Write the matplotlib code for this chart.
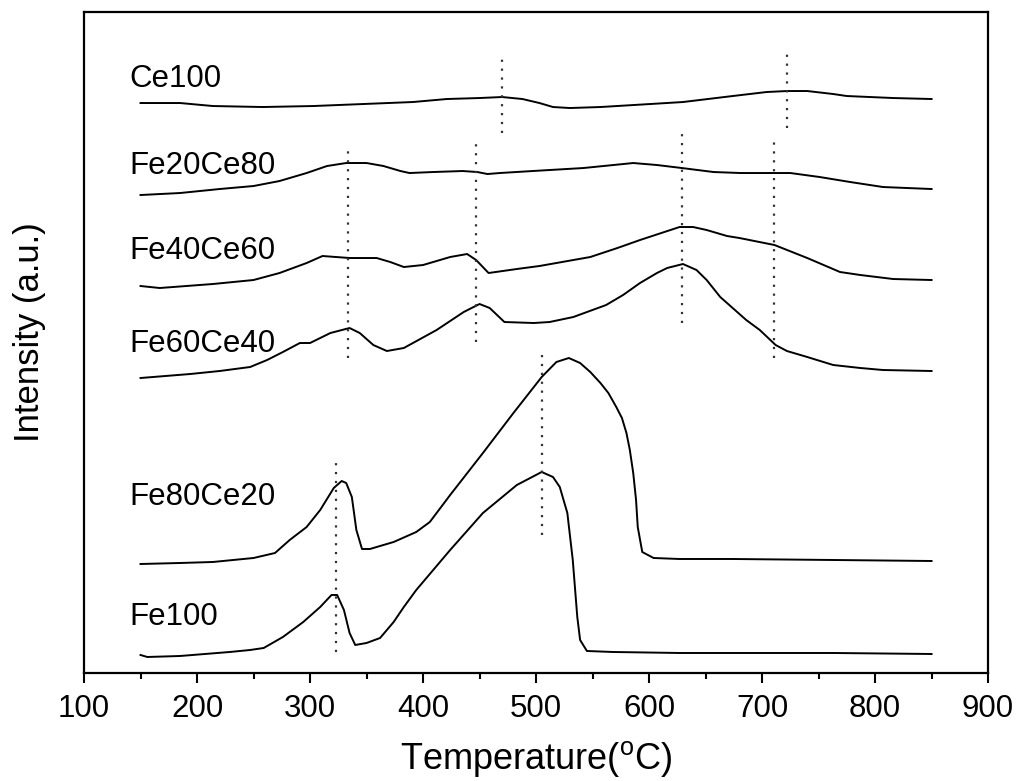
import matplotlib.pyplot as plt
import numpy as np

plt.rcParams['font.family'] = ['Liberation Sans', 'DejaVu Sans']
plt.rcParams['mathtext.fontset'] = 'custom'
plt.rcParams['mathtext.rm'] = 'Liberation Sans'

# H2-TPR profiles (temperature in C, intensity a.u. with offsets)
t_ce100 = [150, 185, 214, 258, 303, 347, 391, 421, 450, 470, 488, 503, 515, 530, 557, 601, 630,
           674, 704, 722, 740, 763, 775, 816, 850]
y_ce100 = [570, 570, 567, 566, 567, 569, 571, 574, 575, 576, 574, 570, 566, 565, 566, 569, 571,
           577, 581, 582, 582, 579, 577, 575, 574]

t_fe20 = [150, 185, 220, 250, 273, 297, 315, 332, 350, 365, 380, 388, 409, 435, 448, 457, 468,
          497, 542, 586, 607, 629, 657, 681, 725, 751, 778, 807, 850]
y_fe20 = [478, 480, 484, 487, 492, 500, 507, 510, 510, 507, 502, 500, 501, 502, 501, 499, 500,
          502, 505, 510, 508, 505, 501, 500, 500, 496, 491, 486, 484]

t_fe40 = [150, 167, 214, 250, 273, 297, 311, 335, 359, 371, 383, 400, 424, 439, 447, 458, 483,
          503, 548, 572, 592, 627, 639, 651, 669, 680, 711, 740, 769, 787, 816, 850]
y_fe40 = [387, 385, 389, 393, 400, 410, 417, 415, 415, 411, 406, 408, 416, 419, 413, 400, 404,
          407, 416, 425, 433, 446, 446, 443, 437, 435, 428, 415, 401, 398, 394, 393]

t_fe60 = [150, 194, 220, 247, 262, 276, 291, 300, 318, 335, 344, 356, 368, 383, 412, 436, 450,
          459, 472, 498, 512, 533, 562, 577, 592, 607, 616, 630, 642, 651, 663, 674, 686, 698,
          712, 722, 740, 763, 787, 807, 850]
y_fe60 = [295, 299, 302, 306, 313, 321, 330, 330, 340, 345, 340, 328, 322, 325, 343, 361, 369,
          365, 351, 350, 351, 356, 368, 378, 390, 400, 405, 409, 403, 393, 376, 365, 353, 343,
          328, 322, 316, 308, 305, 303, 302]

t_fe80 = [150, 185, 214, 250, 269, 282, 297, 309, 321, 328, 332, 337, 341, 346, 353, 374, 394,
          406, 424, 453, 480, 505, 518, 529, 539, 548, 557, 564, 571, 576, 580, 583, 586, 588.5,
          590, 594, 604, 627, 674, 763, 850]
y_fe80 = [109, 110, 111, 115, 120, 133, 146, 163, 185, 192, 190, 176, 143, 124, 124, 131, 141,
          151, 178, 220, 260, 296, 311, 315, 310, 301, 290, 280, 266, 255, 240, 223, 200, 173,
          146, 121, 115, 114, 114, 113, 112]

t_fe100 = [150, 156, 185, 229, 247, 259, 276, 294, 309, 319, 324, 330, 335, 340, 350, 362, 374,
           383, 394, 424, 453, 483, 505, 515, 521, 527.7, 532.5, 536.5, 539, 545, 568, 627, 669,
           763, 850]
y_fe100 = [18, 16, 17, 21, 23, 25, 36, 51, 66, 78, 78, 63, 40, 28, 30, 35, 51,
           66, 83, 123, 160, 188, 201, 196, 186, 160, 113, 56, 33, 22, 21, 20, 20,
           20, 19]

names = ['Ce100', 'Fe20Ce80', 'Fe40Ce60', 'Fe60Ce40', 'Fe80Ce20', 'Fe100']
name_y = [586, 499, 414, 321, 168, 48]

# dotted peak markers
peak_t = [470, 722, 334, 447, 629, 711, 323, 505]
peak_lo = [540, 545, 315, 331, 350, 315, 21, 138]
peak_hi = [620, 625, 525, 531, 540, 536, 211, 318]

fig = plt.figure(figsize=(10.16, 7.81), dpi=100)
ax = fig.add_axes([0.0827, 0.1383, 0.8898, 0.8463])

curves = [(t_ce100, y_ce100), (t_fe20, y_fe20), (t_fe40, y_fe40),
          (t_fe60, y_fe60), (t_fe80, y_fe80), (t_fe100, y_fe100)]
for t, y in curves:
    ax.plot(t, y, color='black', lw=1.4, solid_joinstyle='round')

for t, lo, hi in zip(peak_t, peak_lo, peak_hi):
    ax.plot([t, t], [lo, hi], color='#333333', lw=1.6, linestyle=(0, (1, 3)))

for n, yy in zip(names, name_y):
    ax.text(140, yy, n, fontsize=22.5, va='baseline', ha='left')

ax.set_xlim(100, 900)
ax.set_ylim(0, 661)
ax.set_xticks(np.arange(100, 901, 100))
ax.set_xticks(np.arange(150, 900, 100), minor=True)
ax.set_yticks([])
ax.tick_params(axis='x', which='major', direction='out', length=7, width=1.5,
               labelsize=22.5, pad=8)
ax.tick_params(axis='x', which='minor', direction='out', length=4, width=1.5)
for s in ax.spines.values():
    s.set_linewidth(1.6)

ax.set_xlabel('Temperature($^{\\rm o}$C)', fontsize=26)
ax.xaxis.set_label_coords(0.5, -0.1452)
ax.xaxis.label.set_va('baseline')
ax.set_ylabel('Intensity (a.u.)', fontsize=25)
ax.yaxis.set_label_coords(-0.06, 0.516)
ax.yaxis.label.set_va('center')

fig.savefig('out.png', dpi=100)
